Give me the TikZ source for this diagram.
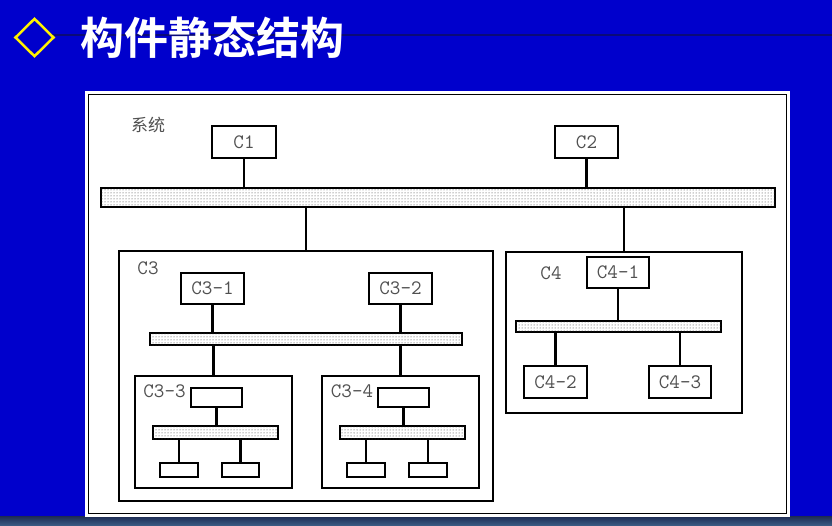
\documentclass[tikz,border=0pt]{standalone}
\usepackage{fontspec}
\newfontfamily\cjk{Noto Sans CJK SC}
\newfontfamily\cjkb{Noto Sans CJK SC Bold}
\newfontfamily\lab{Latin Modern Mono}
\usetikzlibrary{patterns}
\definecolor{bgblue}{RGB}{0,0,204}
\definecolor{titleline}{RGB}{10,10,120}
\definecolor{bandtop}{RGB}{30,45,85}
\definecolor{bandbot}{RGB}{60,95,135}
\definecolor{labgray}{RGB}{80,80,80}
\tikzset{
  comp/.style={draw=black, line width=1.2pt, fill=white, inner sep=0pt,
    font=\lab\fontsize{20.5}{20.5}\selectfont, text=labgray},
  busbar/.style={draw=black, line width=1.2pt, fill=white, inner sep=0pt,
    postaction={pattern=dots, pattern color=black!80}},
  frame/.style={draw=black, line width=1.2pt, fill=white, inner sep=0pt},
  conn/.style={line width=2.8pt, black},
  lbl/.style={inner sep=0pt, font=\lab\fontsize{20.5}{20.5}\selectfont, text=labgray}
}
\begin{document}
\begin{tikzpicture}[x=1pt,y=-1pt]
\useasboundingbox (0,0) rectangle (832,526);
\fill[bgblue] (0,0) rectangle (832,526);
\shade[top color=bandtop, bottom color=bandbot] (0,516.5) rectangle (832,526);
% title
\draw[titleline, line width=2pt] (15,35.5) -- (832,35.5);
\draw[yellow, line width=2.5pt, fill=bgblue] (34.5,18.8) -- (53.5,37.5) -- (34.5,56.2) -- (15.5,37.5) -- cycle;
\node[anchor=base west, inner sep=0pt, text=white, font=\cjkb\fontsize{44}{44}\selectfont] (title) at (80,55) {构件静态结构};
% panel
\fill[white] (85,91.5) rectangle (790,516.5);
\draw[black, line width=1.2pt] (88.5,94.5) rectangle (786.5,513.5);
\node[inner sep=0pt, text=labgray, font=\cjk\fontsize{17}{17}\selectfont] (sys) at (148,125) {系统};
% top level
\node[comp, minimum width=64pt, minimum height=32pt] (C1) at (244,142) {C1};
\node[comp, minimum width=63pt, minimum height=32pt] (C2) at (586.5,142) {C2};
\node[busbar, minimum width=674pt, minimum height=19pt] (bus) at (438,197.5) {};
\node[frame, minimum width=374pt, minimum height=250pt] (C3) at (306,376) {};
\node[frame, minimum width=236pt, minimum height=161pt] (C4) at (624,332.5) {};
\draw[conn] (C1.south) -- (C1.south |- bus.north);
\draw[conn] (C2.south) -- (C2.south |- bus.north);
\draw[conn] (bus.south -| C3.north) -- (C3.north);
\draw[conn] (bus.south -| C4.north) -- (C4.north);
% C3
\node[lbl] (C3l) at (148,268) {C3};
\node[comp, minimum width=63pt, minimum height=31pt] (C31) at (212.5,288.5) {C3\textendash1};
\node[comp, minimum width=63pt, minimum height=31pt] (C32) at (400.5,288.5) {C3\textendash2};
\node[busbar, minimum width=312pt, minimum height=12pt] (bus3) at (306,339) {};
\node[frame, minimum width=157pt, minimum height=112pt] (C33) at (213.5,432) {};
\node[frame, minimum width=157pt, minimum height=112pt] (C34) at (400.5,432) {};
\draw[conn] (C31.south) -- (C31.south |- bus3.north);
\draw[conn] (C32.south) -- (C32.south |- bus3.north);
\draw[conn] (bus3.south -| C33.north) -- (C33.north);
\draw[conn] (bus3.south -| C34.north) -- (C34.north);
% C3-3
\node[lbl] (C33l) at (164.5,391.5) {C3\textendash3};
\node[comp, minimum width=51pt, minimum height=19pt] (A0) at (216.5,397.5) {};
\node[busbar, minimum width=125pt, minimum height=13pt] (busA) at (215.5,432.5) {};
\node[comp, minimum width=38pt, minimum height=14pt] (A1) at (179,470) {};
\node[comp, minimum width=37pt, minimum height=14pt] (A2) at (240.5,470) {};
\draw[conn] (A0.south) -- (A0.south |- busA.north);
\draw[conn] (busA.south -| A1.north) -- (A1.north);
\draw[conn] (busA.south -| A2.north) -- (A2.north);
% C3-4
\node[lbl] (C34l) at (352,391.5) {C3\textendash4};
\node[comp, minimum width=51pt, minimum height=19pt] (B0) at (403.5,397.5) {};
\node[busbar, minimum width=125pt, minimum height=13pt] (busB) at (402.5,432.5) {};
\node[comp, minimum width=38pt, minimum height=14pt] (B1) at (366,470) {};
\node[comp, minimum width=38pt, minimum height=14pt] (B2) at (428,470) {};
\draw[conn] (B0.south) -- (B0.south |- busB.north);
\draw[conn] (busB.south -| B1.north) -- (B1.north);
\draw[conn] (busB.south -| B2.north) -- (B2.north);
% C4
\node[lbl] (C4l) at (551,273) {C4};
\node[comp, minimum width=62pt, minimum height=31pt] (C41) at (618,272.5) {C4\textendash1};
\node[busbar, minimum width=205pt, minimum height=11pt] (bus4) at (618.5,326.5) {};
\node[comp, minimum width=63pt, minimum height=32pt] (C42) at (555.5,382) {C4\textendash2};
\node[comp, minimum width=62pt, minimum height=32pt] (C43) at (680,382) {C4\textendash3};
\draw[conn] (C41.south) -- (C41.south |- bus4.north);
\draw[conn] (bus4.south -| C42.north) -- (C42.north);
\draw[conn] (bus4.south -| C43.north) -- (C43.north);
\end{tikzpicture}
\end{document}
